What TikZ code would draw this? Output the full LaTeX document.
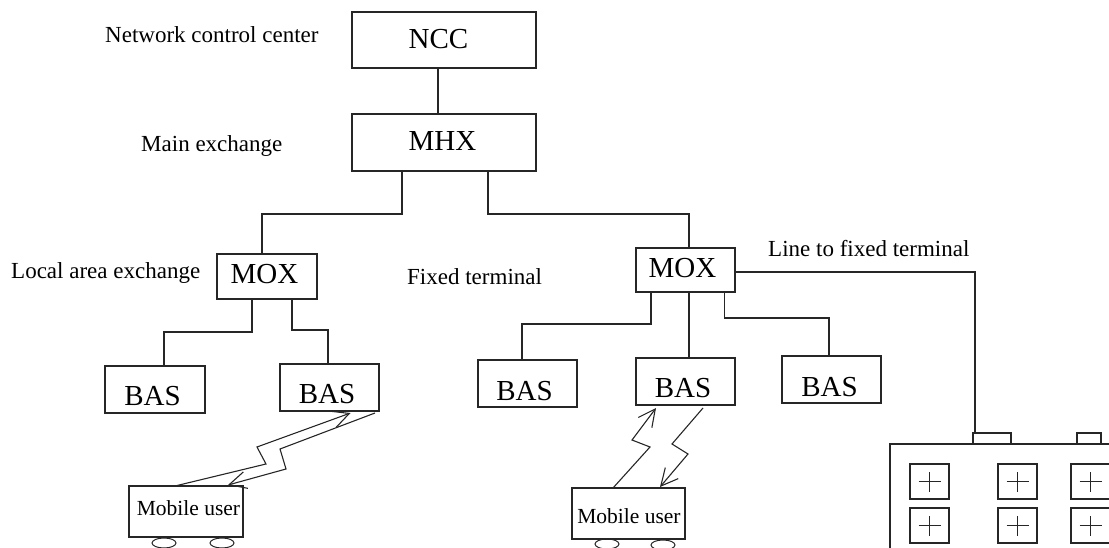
\documentclass[tikz,border=0pt]{standalone}
\usepackage{fontspec}
\setmainfont{Liberation Serif}
\usetikzlibrary{arrows.meta, positioning, shapes.geometric}
\tikzset{
  unit/.style={rectangle, draw=black!85, line width=1.4pt, inner sep=0pt, outer sep=0pt,
    text height=0pt, text depth=0pt},
  bigbox/.style={unit, minimum width=184pt, minimum height=#1, font=\fontsize{29}{31}\selectfont},
  smallbox/.style={unit, minimum width=99pt, minimum height=#1, font=\fontsize{29}{31}\selectfont},
  mobile/.style={unit, minimum width=114pt, minimum height=51pt, font=\fontsize{21.5}{23}\selectfont},
  wheel/.style={ellipse, draw=black!85, line width=1pt, minimum width=24pt, minimum height=10pt, inner sep=0pt},
  tab/.style={rectangle, draw=black!85, line width=1.4pt, minimum height=11pt, inner sep=0pt, outer sep=0pt},
  keycap/.style={rectangle, draw=black!85, line width=1.4pt, minimum width=39pt, minimum height=35pt, inner sep=0pt,
    path picture={\draw[line width=1.4pt] ([xshift=-11pt]path picture bounding box.center) -- ([xshift=11pt]path picture bounding box.center)
      ([yshift=-10pt]path picture bounding box.center) -- ([yshift=10pt]path picture bounding box.center);}},
  caption/.style={inner sep=0pt, anchor=base west, font=\fontsize{23}{25}\selectfont},
  link/.style={line width=1.4pt, draw=black!85},
  radio/.style={line width=1.1pt, draw=black!85, -{Straight Barb[length=17pt,width=17pt]}}
}
% box text, moved off the middle of its box: x, baseline, text
\newcommand{\boxname}[3]{\raisebox{#2}{\makebox[0pt]{\hspace*{#1}\hspace*{#1}#3}}}
\begin{document}
\begin{tikzpicture}[x=1pt, y=1pt]
  \useasboundingbox (0,0) rectangle (1109,-548);
  \node[bigbox=56pt] (ncc) at (444,-40) {\boxname{-5.5pt}{-9pt}{NCC}};
  \node[bigbox=57pt, below=46pt of ncc] (mhx) {\boxname{-1.5pt}{-8.5pt}{MHX}};
  \node[smallbox=45pt, minimum width=100pt, below=83pt of mhx, xshift=-177pt] (moxl) {\boxname{-2.5pt}{-6.5pt}{MOX}};
  \node[smallbox=44pt, below=77pt of mhx, xshift=241.5pt] (moxr) {\boxname{-3pt}{-7pt}{MOX}};
  \node[smallbox=47pt, minimum width=100pt, below=67pt of moxl, xshift=-112pt] (basa) {\boxname{-2.5pt}{-15.5pt}{BAS}};
  \node[smallbox=47pt, below=65pt of moxl, xshift=62.5pt] (basb) {\boxname{-2.5pt}{-15.5pt}{BAS}};
  \node[smallbox=47pt, below=68pt of moxr, xshift=-158pt] (basc) {\boxname{-3pt}{-16.5pt}{BAS}};
  \node[smallbox=47pt, below=66pt of moxr] (basd) {\boxname{-2.5pt}{-15.5pt}{BAS}};
  \node[smallbox=47pt, below=64pt of moxr, xshift=146pt] (base) {\boxname{-2pt}{-16.5pt}{BAS}};
  \node[mobile, below=75pt of basb, xshift=-143.5pt] (mobl) {\boxname{2.5pt}{-3.5pt}{Mobile user}};
  \node[mobile, minimum width=113pt, below=83pt of basd, xshift=-57pt] (mobr) {\boxname{0.5pt}{-9.5pt}{Mobile user}};

  \node[wheel] (wheela) at (164,-543) {};
  \node[wheel] (wheelb) at (222,-543) {};
  \node[wheel] (wheelc) at (607,-544) {};
  \node[wheel] (wheeld) at (663,-545) {};

  \node[caption] (nccname) at (105,-43) {Network control center};
  \node[caption] (mhxname) at (141,-152) {Main exchange};
  \node[caption] (moxname) at (11,-279) {Local area exchange};
  \node[caption] (fixedname) at (407,-285) {Fixed terminal};
  \node[caption] (linename) at (768,-257) {Line to fixed terminal};

  % fixed terminal, runs off the page
  \coordinate (termcorner) at (890,-444);
  \draw[link] (890,-548) -- (termcorner) -- (1109,-444);
  \node[tab, minimum width=38pt] (taba) at (992,-438.5) {};
  \node[tab, minimum width=24pt] (tabb) at (1089,-438.5) {};
  \foreach \i/\x in {1/929.5,2/1017.5,3/1090.5}
    \foreach \j/\y in {1/-481.5,2/-525.5}
      \node[keycap] (key\i\j) at (\x,\y) {};

  \draw[link] ([xshift=-6pt]ncc.south) -- ([xshift=-6pt]mhx.north);
  \draw[link] ([xshift=-42pt]mhx.south) -- ++(0,-43pt) -| ([xshift=-5pt]moxl.north);
  \draw[link] ([xshift=44pt]mhx.south) -- ++(0,-43pt) -| ([xshift=3.5pt]moxr.north);
  \draw[link] ([xshift=-15pt]moxl.south) -- ++(0,-33pt) -| ([xshift=9pt]basa.north);
  \draw[link] ([xshift=25pt]moxl.south) -- ++(0,-31pt) -| ([xshift=-1.5pt]basb.north);
  \draw[link] ([xshift=-34.5pt]moxr.south) -- ++(0,-32pt) -| ([xshift=-5.5pt]basc.north);
  \draw[link] ([xshift=3.5pt]moxr.south) -- ([xshift=3.5pt]basd.north);
  \draw[link] ([xshift=39pt]moxr.south) -- ++(0,-26pt) -| ([xshift=-2.5pt]base.north);
  \draw[link] ([yshift=-2pt]moxr.east) -| ([xshift=-17pt]taba.north);

  % radio links
  \draw[radio] ([xshift=-11pt]mobl.north) -- (266,-464) -- (257,-447) -- ([xshift=21pt,yshift=-2pt]basb.south);
  \draw[radio] ([xshift=45.5pt,yshift=-2pt]basb.south) -- (280,-449) -- (286,-469) -- ([xshift=42pt,yshift=1pt]mobl.north);
  \draw[radio] ([xshift=-15.5pt]mobr.north) -- (650,-447) -- (632,-440) -- ([xshift=-29.5pt,yshift=-3pt]basd.south);
  \draw[radio] ([xshift=17.5pt,yshift=-3pt]basd.south) -- (672,-444) -- (688,-454) -- ([xshift=31.5pt,yshift=1pt]mobr.north);
\end{tikzpicture}
\end{document}
